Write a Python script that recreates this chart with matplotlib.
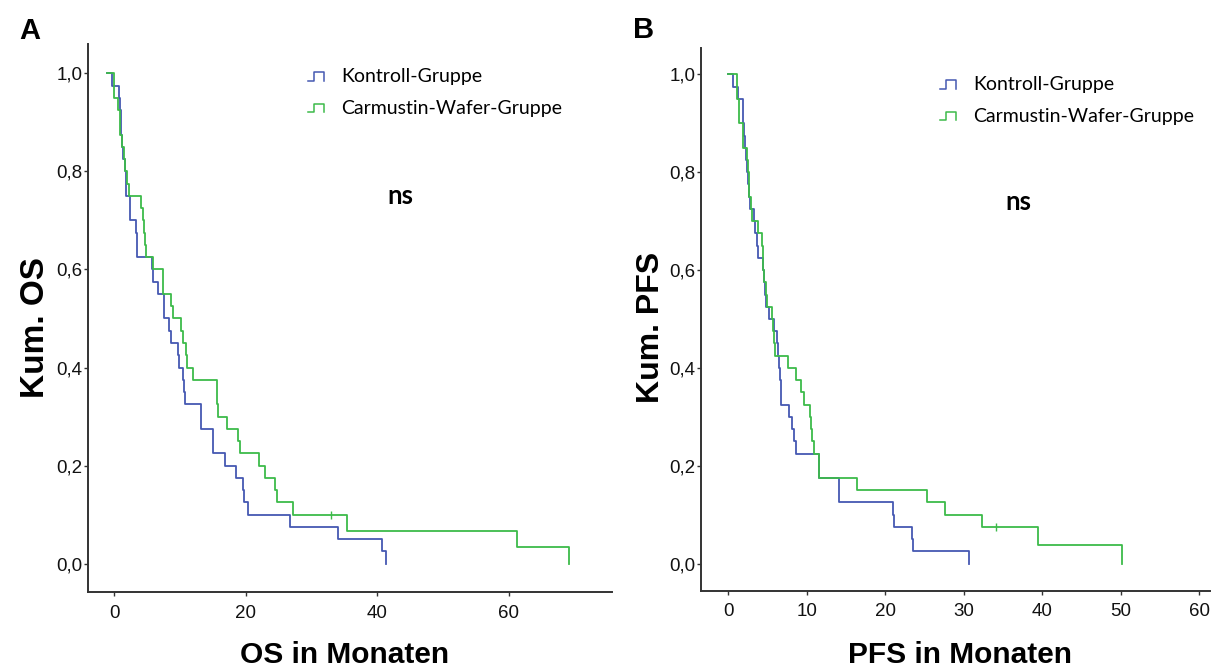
import matplotlib
matplotlib.use("Agg")
import matplotlib.pyplot as plt
from matplotlib.legend_handler import HandlerBase
from matplotlib.lines import Line2D
from matplotlib.ticker import FuncFormatter

# ---------------- data ----------------
group_labels = ["Kontroll-Gruppe", "Carmustin-Wafer-Gruppe"]

# Panel A: overall survival (months, cumulative survival after each step)
os_kontroll_t = [-1.1, -0.4, 0.77, 0.85, 0.95, 1.02, 1.22, 1.38, 1.58, 1.73,
                 1.78, 2.38, 3.25, 3.45, 5.68, 5.83, 6.59, 7.55, 8.36, 8.6,
                 9.63, 9.9, 10.39, 10.64, 10.74, 13.13, 14.95, 16.8, 18.45, 19.5,
                 19.7, 20.27, 26.7, 34.0, 40.7, 41.4]
os_kontroll_s = [1.0, 0.975, 0.95, 0.925, 0.90, 0.875, 0.85, 0.825, 0.80, 0.775,
                 0.75, 0.70, 0.675, 0.625, 0.60, 0.575, 0.55, 0.50, 0.475, 0.45,
                 0.425, 0.40, 0.375, 0.35, 0.325, 0.275, 0.225, 0.20, 0.175, 0.15,
                 0.125, 0.10, 0.075, 0.05, 0.025, 0.0]

os_carmustin_t = [-1.1, -0.04, 0.5, 0.8, 0.9, 1.2, 1.4, 1.6, 1.9, 2.3,
                  4.0, 4.4, 4.55, 4.65, 4.75, 5.9, 7.35, 8.57, 8.87, 10.13,
                  10.45, 10.84, 11.12, 11.91, 15.56, 15.81, 17.08, 18.85, 19.1, 22.04,
                  22.9, 24.4, 24.68, 27.2, 35.4, 61.3, 69.15]
os_carmustin_s = [1.0, 0.95, 0.925, 0.90, 0.875, 0.85, 0.825, 0.80, 0.775, 0.75,
                  0.725, 0.70, 0.675, 0.65, 0.625, 0.60, 0.55, 0.525, 0.50, 0.475,
                  0.45, 0.425, 0.40, 0.375, 0.325, 0.30, 0.275, 0.25, 0.225, 0.20,
                  0.175, 0.15, 0.125, 0.10, 0.067, 0.033, 0.0]
os_carmustin_censor_t = [33.0]
os_carmustin_censor_s = [0.10]

# Panel B: progression-free survival
pfs_kontroll_t = [0.0, 0.56, 1.28, 1.83, 1.92, 2.04, 2.12, 2.21, 2.34, 2.45,
                  2.6, 2.76, 3.32, 3.4, 3.61, 3.83, 4.46, 4.55, 4.67, 4.8,
                  5.18, 5.86, 6.2, 6.37, 6.5, 6.6, 6.71, 6.75, 7.73, 8.16,
                  8.41, 8.58, 11.6, 14.1, 21.0, 21.15, 23.36, 23.57, 30.66]
pfs_kontroll_s = [1.0, 0.975, 0.95, 0.925, 0.90, 0.875, 0.85, 0.825, 0.80, 0.775,
                  0.75, 0.725, 0.70, 0.675, 0.65, 0.625, 0.60, 0.575, 0.55, 0.525,
                  0.50, 0.475, 0.45, 0.425, 0.40, 0.375, 0.35, 0.325, 0.30, 0.275,
                  0.25, 0.225, 0.175, 0.125, 0.10, 0.075, 0.05, 0.025, 0.0]

pfs_carmustin_t = [0.0, 1.06, 1.41, 1.83, 2.42, 2.5, 2.6, 2.68, 2.85, 2.98,
                   3.83, 4.25, 4.38, 4.46, 4.6, 4.8, 4.97, 5.61, 5.7, 5.82,
                   5.9, 7.56, 8.58, 9.22, 9.69, 10.41, 10.49, 10.62, 10.96, 11.6,
                   16.44, 25.3, 27.65, 32.4, 39.5, 50.2]
pfs_carmustin_s = [1.0, 0.95, 0.90, 0.85, 0.825, 0.80, 0.775, 0.75, 0.725, 0.70,
                   0.675, 0.65, 0.625, 0.60, 0.575, 0.55, 0.525, 0.50, 0.475, 0.45,
                   0.425, 0.40, 0.375, 0.35, 0.325, 0.30, 0.275, 0.25, 0.225, 0.175,
                   0.15, 0.125, 0.10, 0.075, 0.0375, 0.0]
pfs_carmustin_censor_t = [34.1]
pfs_carmustin_censor_s = [0.075]

yticks = [0.0, 0.2, 0.4, 0.6, 0.8, 1.0]
xticks_A = [0, 20, 40, 60]
xticks_B = [0, 10, 20, 30, 40, 50, 60]

# ---------------- style ----------------
BLUE = "#4558B2"
GREEN = "#3DBB4A"
SPINE = "#333333"
TICKFONT = "Liberation Sans"
LEGFONT = "Lato"

W, H = 1215, 671
fig = plt.figure(figsize=(W / 100, H / 100), dpi=100)


def fx(x):
    return x / W


def fy(y):
    return 1 - y / H


class PulseHandler(HandlerBase):
    def create_artists(self, legend, orig_handle, xdescent, ydescent,
                       width, height, fontsize, trans):
        x0, y0 = -xdescent, -ydescent
        xs = [x0, x0 + 0.4 * width, x0 + 0.4 * width, x0 + width, x0 + width]
        ys = [y0 + 0.1 * height, y0 + 0.1 * height, y0 + 0.75 * height,
              y0 + 0.75 * height, y0 + 0.1 * height]
        ln = Line2D(xs, ys, color=orig_handle.get_color(), lw=1.1,
                    transform=trans)
        return [ln]


def style_axes(ax, xlim, ylim, xticks):
    ax.set_xlim(*xlim)
    ax.set_ylim(*ylim)
    for s in ("top", "right"):
        ax.spines[s].set_visible(False)
    for s in ("left", "bottom"):
        ax.spines[s].set_color(SPINE)
        ax.spines[s].set_linewidth(1.4)
    ax.set_xticks(xticks)
    ax.set_yticks(yticks)
    ax.yaxis.set_major_formatter(FuncFormatter(lambda v, p: f"{v:.1f}".replace(".", ",")))
    ax.tick_params(axis="y", direction="out", length=3, width=1, color=SPINE,
                   pad=1, labelsize=13.5)
    ax.tick_params(axis="x", direction="out", length=3, width=1, color=SPINE,
                   pad=6, labelsize=13.5)
    for lab in ax.get_xticklabels() + ax.get_yticklabels():
        lab.set_fontfamily(TICKFONT)
        lab.set_color("#111111")


def draw_panel(ax, t1, s1, t2, s2, ct, cs):
    l1, = ax.step(t1, s1, where="post", color=BLUE, lw=1.3, label=group_labels[0])
    l2, = ax.step(t2, s2, where="post", color=GREEN, lw=1.3, label=group_labels[1])
    ax.plot(ct, cs, linestyle="none", marker="|", markersize=6,
            markeredgewidth=1.0, color=GREEN)
    return l1, l2


# Panel A
axA = fig.add_axes([fx(88), fy(592), (612 - 88) / W, (592 - 44) / H])
hA = draw_panel(axA, os_kontroll_t, os_kontroll_s, os_carmustin_t, os_carmustin_s,
                os_carmustin_censor_t, os_carmustin_censor_s)
style_axes(axA, (-4.0, 75.7), (-0.058, 1.06), xticks_A)

# Panel B
axB = fig.add_axes([fx(701), fy(591), (1210 - 701) / W, (591 - 48) / H])
hB = draw_panel(axB, pfs_kontroll_t, pfs_kontroll_s, pfs_carmustin_t, pfs_carmustin_s,
                pfs_carmustin_censor_t, pfs_carmustin_censor_s)
style_axes(axB, (-3.48, 61.4), (-0.056, 1.054), xticks_B)

# legends
for ax, handles, anchor in ((axA, hA, (308, 68)), (axB, hB, (940, 76))):
    leg = ax.legend(handles=list(handles), labels=group_labels, loc="upper left",
                    bbox_to_anchor=(fx(anchor[0]), fy(anchor[1])),
                    bbox_transform=fig.transFigure, frameon=False,
                    handler_map={Line2D: PulseHandler()},
                    handlelength=0.8, handletextpad=0.9, labelspacing=0.76,
                    borderpad=0, borderaxespad=0,
                    prop={"family": LEGFONT, "size": 14})

# "ns" annotations
fig.text(fx(400), fy(196), "ns", family=LEGFONT, weight="bold", fontsize=18.5,
         ha="center", va="center")
fig.text(fx(1018), fy(202), "ns", family=LEGFONT, weight="bold", fontsize=18.5,
         ha="center", va="center")

# axis titles
fig.text(fx(345), fy(655), "OS in Monaten", family=TICKFONT, weight="bold",
         fontsize=21.5, ha="center", va="center")
fig.text(fx(960), fy(655), "PFS in Monaten", family=TICKFONT, weight="bold",
         fontsize=21.5, ha="center", va="center")
fig.text(fx(35), fy(328), "Kum. OS", family=TICKFONT, weight="bold",
         fontsize=24, ha="center", va="center", rotation=90)
fig.text(fx(651), fy(327), "Kum. PFS", family=TICKFONT, weight="bold",
         fontsize=23, ha="center", va="center", rotation=90)

# panel letters
fig.text(fx(19), fy(39), "A", family=TICKFONT, weight="bold", fontsize=21,
         ha="left", va="baseline")
fig.text(fx(633), fy(38), "B", family=TICKFONT, weight="bold", fontsize=21,
         ha="left", va="baseline")

fig.savefig("out.png", dpi=100, facecolor="white")
